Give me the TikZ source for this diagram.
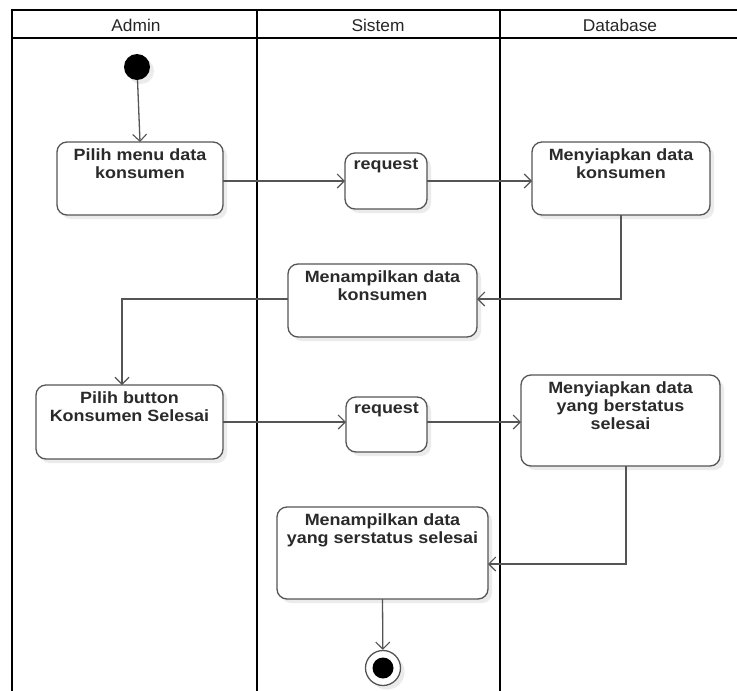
\documentclass[tikz,border=0pt]{standalone}
\usepackage{fontspec}
\setmainfont{Liberation Sans}
\newfontfamily\headfont[FakeStretch=1.02]{Liberation Sans}
\newfontfamily\actfont[FakeStretch=1.1]{Liberation Sans}
\usetikzlibrary{arrows.meta,shadows}
\definecolor{edgegray}{HTML}{555555}
\definecolor{txtgray}{HTML}{2A2A2A}
\tikzset{
  lane/.style={line width=2.5pt, black},
  acttext/.style={font=\actfont\bfseries\fontsize{16.3}{18.3}\selectfont, text=txtgray},
  act/.style={draw=edgegray, line width=1.3pt, fill=white, rounded corners=10pt,
    drop shadow={shadow xshift=4pt, shadow yshift=-4pt, fill=black!8, opacity=1}},
  flow/.style={draw=edgegray, line width=1.3pt,
    -{Straight Barb[length=7pt,width=14pt,line width=1.1pt]}},
  lanehead/.style={font=\headfont\fontsize{17}{19}\selectfont, text=black!85}
}
% activity box: name, left, top, right, bottom, text
\newcommand{\actbox}[6]{%
  \path[act] (#2,#3) rectangle (#4,#5);
  \node[acttext, align=center, anchor=north, inner sep=0pt] (#1) at ({(#2+#4)/2},{#3+6}) {#6};
  \coordinate (#1-W) at (#2,{(#3+#5)/2});
  \coordinate (#1-E) at (#4,{(#3+#5)/2});
  \coordinate (#1-N) at ({(#2+#4)/2},#3);
  \coordinate (#1-S) at ({(#2+#4)/2},#5);
}
\begin{document}
\begin{tikzpicture}[x=1pt,y=-1pt]
\useasboundingbox (0,0) rectangle (737,691);
\fill[white] (0,0) rectangle (737,691);

% swimlanes
\draw[lane] (12,10) -- (740,10);
\draw[lane] (12,38) -- (740,38);
\draw[lane] (12,8.75) -- (12,695);
\draw[lane] (257,10) -- (257,695);
\draw[lane] (500,10) -- (500,695);
\node[lanehead] (hA) at (136,25) {Admin};
\node[lanehead] (hS) at (378,25) {Sistem};
\node[lanehead] (hD) at (620,25) {Database};

% initial node
\node[circle, fill=black, minimum size=26pt, inner sep=0pt,
  drop shadow={shadow xshift=4pt, shadow yshift=-4pt, fill=black!8, opacity=1}] (start) at (137,67) {};

% activities
\actbox{pm}{57}{142}{223}{215}{Pilih menu data\\konsumen}
\actbox{rq1}{345}{153}{427}{209}{request}
\actbox{sk}{532}{142}{710}{215}{Menyiapkan data\\konsumen}
\actbox{mk}{288}{264}{477}{337}{Menampilkan data\\konsumen}
\actbox{pb}{36}{385}{223}{459}{Pilih button\\Konsumen Selesai}
\actbox{rq2}{346}{397}{427}{452}{request}
\actbox{ss}{521}{375}{720}{466}{Menyiapkan data\\yang berstatus\\selesai}
\actbox{ms}{277}{507}{488}{599}{Menampilkan data\\yang serstatus selesai}

% final node
\node[circle, draw=edgegray, line width=1.3pt, fill=white, minimum size=35pt, inner sep=0pt,
  drop shadow={shadow xshift=4pt, shadow yshift=-4pt, fill=black!8, opacity=1}] (end) at (383,668) {};
\node[circle, fill=black, minimum size=21pt, inner sep=0pt] (endc) at (end) {};

% control flow
\draw[flow] (start) -- (pm-N);
\draw[flow] (pm-E |- 0,181) -- (rq1-W |- 0,181);
\draw[flow] (rq1-E |- 0,181) -- (sk-W |- 0,181);
\draw[flow] (621,215) |- (mk-E |- 0,299);
\draw[flow] (mk-W |- 0,299) -| (122,385);
\draw[flow] (pb-E) -- (rq2-W |- pb-E);
\draw[flow] (rq2-E |- pb-E) -- (ss-W |- pb-E);
\draw[flow] (626,466) |- (ms-E |- 0,564);
\draw[flow] (ms-S) -- (end);
\end{tikzpicture}
\end{document}
